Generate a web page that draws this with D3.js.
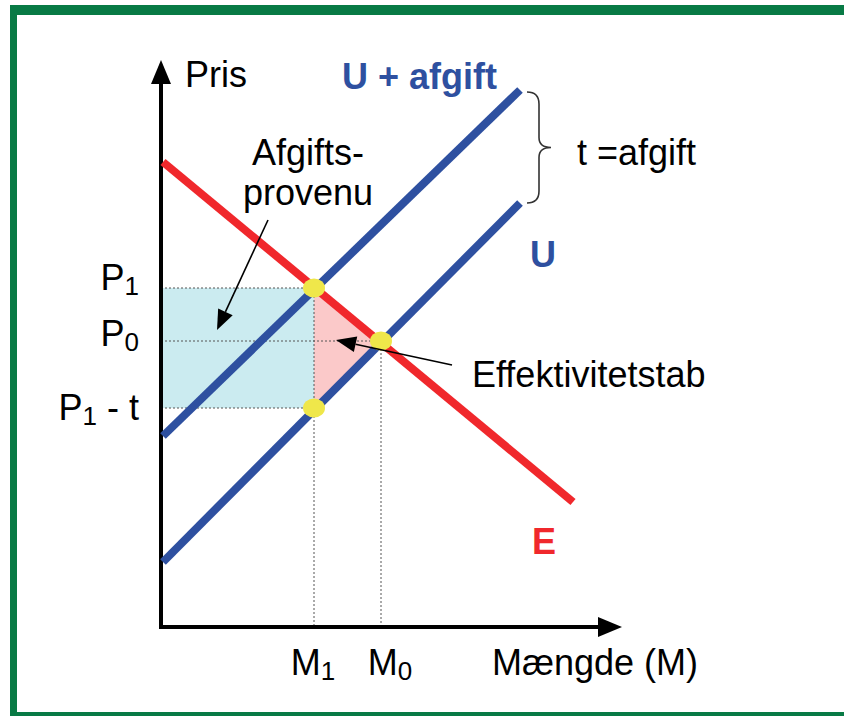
<!DOCTYPE html>
<html><head><meta charset="utf-8">
<script src="https://cdn.jsdelivr.net/npm/d3@7"></script>
<style>
html,body{margin:0;padding:0;background:#fff;}
svg{display:block;}
text{font-family:"Liberation Sans",Arial,Helvetica,sans-serif;white-space:pre;}
</style>
</head><body>
<svg id="c" width="844" height="716"></svg>
<script>
// ---- data ----
const demandE   = [[0.04, 9.30], [8.24, 2.50]];   // E
const supplyU   = [[0.04, 1.30], [7.18, 8.48]];   // U
const supplyTax = [[0.04, 3.82], [7.18, 10.74]];  // U + afgift
const quantityLabels = ["M1", "M0"];
const quantityValues = [3.06, 4.40];
const priceLabels = ["P1", "P0", "P1 - t"];
const priceValues = [6.78, 5.72, 4.38];
const curveLabels = ["U + afgift", "U", "E"];
const annotationTexts = ["Afgifts-", "provenu", "Effektivitetstab", "t =afgift"];

const svg = d3.select("#c");
const x = d3.scaleLinear().domain([0, 9]).range([161, 611]);
const y = d3.scaleLinear().domain([0, 11]).range([627, 77]);

const BLUE = "#2e50a0", RED = "#f0282c", YEL = "#efe74a", GREEN = "#087a45";
const [M1, M0] = quantityValues;
const [P1, P0, P1t] = priceValues;

// frame
svg.append("rect").attr("x", 10).attr("y", 5).attr("width", 840).attr("height", 10).attr("fill", GREEN);
svg.append("rect").attr("x", 10).attr("y", 5).attr("width", 7).attr("height", 715).attr("fill", GREEN);
svg.append("rect").attr("x", 10).attr("y", 712).attr("width", 840).attr("height", 8).attr("fill", GREEN);

// fills
svg.append("rect")
  .attr("x", x(0)).attr("y", y(P1))
  .attr("width", x(M1) - x(0)).attr("height", y(P1t) - y(P1))
  .attr("fill", "#cbebf0");
svg.append("path")
  .attr("d", d3.line()([[x(M1), y(P1)], [x(M0), y(P0)], [x(M1), y(P1t)]]) + "Z")
  .attr("fill", "#fbc9c9");

// dotted guides
const guides = [
  [[0, P1], [M1, P1]], [[0, P0], [M0, P0]], [[0, P1t], [M1, P1t]],
  [[M1, P1], [M1, 0]], [[M0, P0], [M0, 0]]
];
svg.selectAll(".guide").data(guides).join("line").attr("class", "guide")
  .attr("x1", d => x(d[0][0])).attr("y1", d => y(d[0][1]))
  .attr("x2", d => x(d[1][0])).attr("y2", d => y(d[1][1]))
  .attr("stroke", "#555").attr("stroke-width", 1).attr("stroke-dasharray", "2,2");

// axes
svg.append("line").attr("x1", x(0)).attr("y1", y(0) + 2).attr("x2", x(0)).attr("y2", 80)
  .attr("stroke", "#000").attr("stroke-width", 4);
svg.append("path").attr("d", `M${x(0)},60 L${x(0) - 10},84 L${x(0) + 10},84 Z`).attr("fill", "#000");
svg.append("line").attr("x1", x(0) - 2).attr("y1", y(0)).attr("x2", 602).attr("y2", y(0))
  .attr("stroke", "#000").attr("stroke-width", 4);
svg.append("path").attr("d", `M622,${y(0)} L598,${y(0) - 10} L598,${y(0) + 10} Z`).attr("fill", "#000");

// curves
const line = d3.line().x(d => x(d[0])).y(d => y(d[1]));
[[supplyTax, BLUE], [supplyU, BLUE], [demandE, RED]].forEach(([d, c]) => {
  svg.append("path").attr("d", line(d)).attr("fill", "none")
    .attr("stroke", c).attr("stroke-width", 8).attr("stroke-linecap", "butt");
});

// points
const pts = [[M1, P1], [M0, P0], [M1, P1t]];
svg.selectAll(".pt").data(pts).join("ellipse").attr("class", "pt")
  .attr("cx", d => x(d[0])).attr("cy", d => y(d[1]))
  .attr("rx", 11).attr("ry", 9.5).attr("fill", YEL);

// annotation arrows
function arrow(from, to) {
  const x1 = x(from[0]), y1 = y(from[1]), x2 = x(to[0]), y2 = y(to[1]);
  const a = Math.atan2(y2 - y1, x2 - x1), L = 20, W = 8;
  const bx = x2 - L * Math.cos(a), by = y2 - L * Math.sin(a);
  svg.append("line").attr("x1", x1).attr("y1", y1).attr("x2", bx).attr("y2", by)
    .attr("stroke", "#000").attr("stroke-width", 1.6);
  svg.append("path").attr("d",
    `M${x2},${y2} L${bx + W * Math.sin(a)},${by - W * Math.cos(a)} L${bx - W * Math.sin(a)},${by + W * Math.cos(a)} Z`)
    .attr("fill", "#000");
}
arrow([2.14, 8.14], [1.12, 5.94]);
arrow([5.82, 5.24], [3.50, 5.74]);

// brace
{
  const bx = x(supplyTax[1][0]) + 7, yt = y(supplyTax[1][1]) + 2, yb = y(supplyU[1][1]);
  const ym = (yt + yb) / 2, w = 12;
  svg.append("path").attr("d",
    `M${bx},${yt} Q${bx + w},${yt} ${bx + w},${yt + 12} L${bx + w},${ym - 10} Q${bx + w},${ym} ${bx + w + 12},${ym}` +
    ` Q${bx + w},${ym} ${bx + w},${ym + 10} L${bx + w},${yb - 12} Q${bx + w},${yb} ${bx},${yb}`)
    .attr("fill", "none").attr("stroke", "#333").attr("stroke-width", 1.6);
}

// texts
const FS = 36;
function txt(s, px, py, opts = {}) {
  return svg.append("text").attr("x", px).attr("y", py).text(s)
    .attr("font-size", opts.size || FS)
    .attr("font-weight", opts.bold ? "bold" : "normal")
    .attr("fill", opts.color || "#000")
    .attr("text-anchor", opts.anchor || "start");
}
txt("Pris", 185, 87);
txt(curveLabels[0], 342, 89, {bold: true, color: BLUE});
txt(curveLabels[1], 530, 267, {bold: true, color: BLUE});
txt(curveLabels[2], 532, 554, {bold: true, color: RED});
txt(annotationTexts[0], 308, 165, {anchor: "middle"});
txt(annotationTexts[1], 308, 205, {anchor: "middle"});
txt(annotationTexts[2], 472, 387);
txt(annotationTexts[3], 577, 165);
txt("Mængde (M)", 492, 675);

// subscripted labels
function subLabel(str, px, py, anchor) {
  const t = svg.append("text").attr("x", px).attr("y", py).attr("font-size", FS)
    .attr("text-anchor", anchor).attr("fill", "#000");
  t.append("tspan").text(str[0]);
  t.append("tspan").text(str[1]).attr("font-size", 26).attr("dy", 5);
  if (str.length > 2) t.append("tspan").text(str.slice(2)).attr("dy", -5);
}
const priceDy = [2, 5, 12];
priceLabels.forEach((s, i) => subLabel(s, 139, y(priceValues[i]) + priceDy[i], "end"));
const qDx = [-1, 9];
quantityLabels.forEach((s, i) => subLabel(s, x(quantityValues[i]) + qDx[i], 675, "middle"));
</script>
</body></html>
